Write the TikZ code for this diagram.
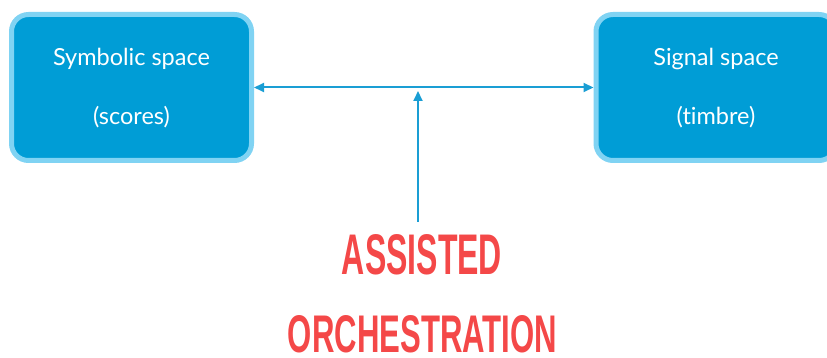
\documentclass[tikz,border=0pt]{standalone}
\usepackage{fontspec}
\setmainfont[Ligatures={NoCommon}]{Lato}
\newfontfamily\headfont{Liberation Sans}
\usetikzlibrary{arrows.meta}
\definecolor{boxfill}{RGB}{0,157,214}
\definecolor{boxrim}{RGB}{128,211,243}
\definecolor{arrowblue}{RGB}{26,158,212}
\definecolor{headred}{RGB}{244,72,72}
\tikzset{
  spacebox/.style={draw=boxrim, line width=5pt, fill=boxfill, rounded corners=17pt,
    minimum width=240pt, minimum height=146pt, inner sep=0pt},
  boxlabel/.style={text=white, font=\fontsize{23.5}{28}\selectfont, inner sep=0pt},
  conn/.style={draw=arrowblue, line width=2pt, -{Triangle[length=10pt,width=9pt]}},
  headline/.style={text=headred, inner sep=0pt},
}
\begin{document}
\begin{tikzpicture}[x=1pt,y=-1pt]
\useasboundingbox (0,0) rectangle (827,358);
\node[spacebox] (L) at (131.5,87.5) {};
\node[spacebox] (R) at (716,87.5) {};
\node[boxlabel] (Lt) at (131.5,59) {Symbolic space};
\node[boxlabel] (Lb) at (131.5,117) {(scores)};
\node[boxlabel] (Rt) at (716,59) {Signal space};
\node[boxlabel] (Rb) at (716,117) {(t{}imbre)};
\draw[conn, {Triangle[length=10pt,width=9pt]}-{Triangle[length=10pt,width=9pt]}] (L.east) -- (R.west);
\coordinate (up0) at (418,222);
\coordinate (up1) at (418,91);
\draw[conn] (up0) -- (up1);
\node[headline] (h1) at (422,255) {\resizebox{160pt}{40pt}{\headfont\bfseries ASSISTED}};
\node[headline] (h2) at (422.5,334) {\resizebox{269pt}{37pt}{\headfont\bfseries ORCHESTRATION}};
\end{tikzpicture}
\end{document}
